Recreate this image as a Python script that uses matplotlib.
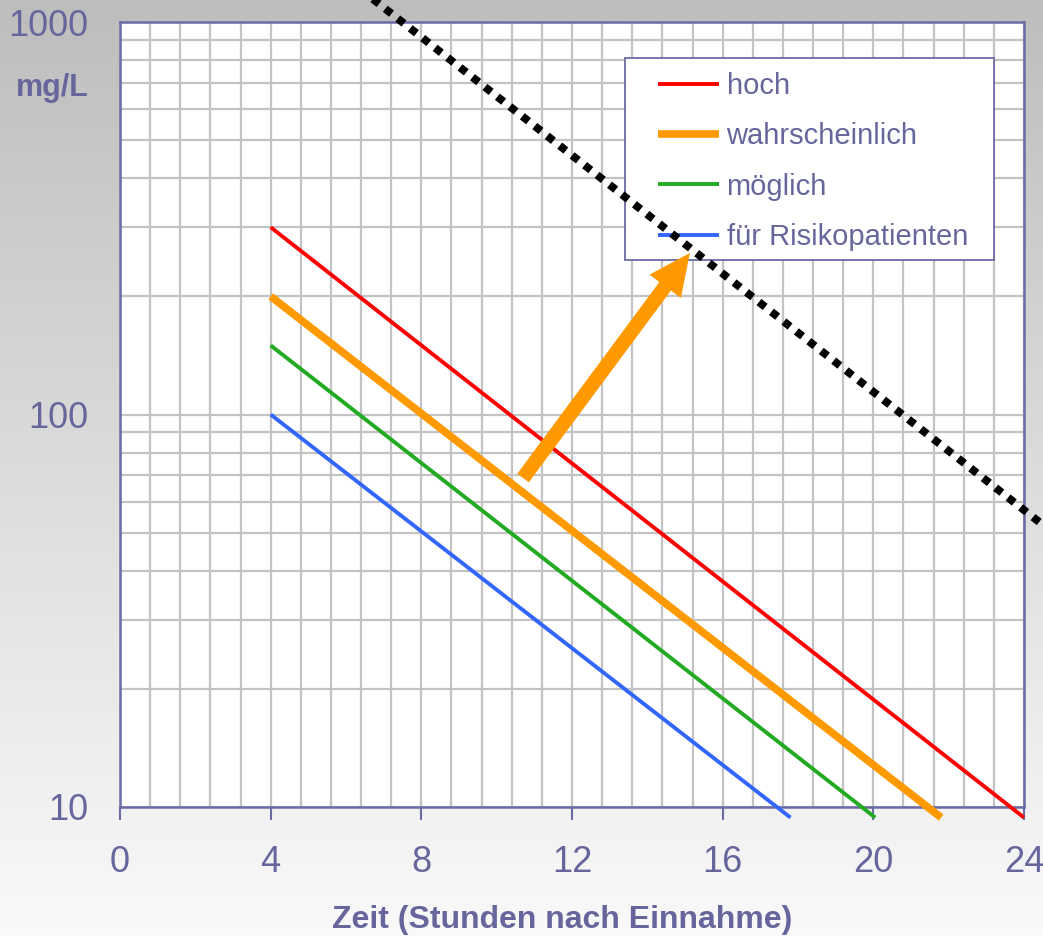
import numpy as np
import matplotlib
matplotlib.use('Agg')
import matplotlib.pyplot as plt
from matplotlib.patches import Rectangle
from matplotlib.ticker import NullFormatter

plt.rcParams['font.family'] = ['Liberation Sans', 'DejaVu Sans']

# Nomogramm-Linien: Start bei 4 h, Ende knapp unter 10 mg/L
labels = ['hoch', 'wahrscheinlich', 'möglich', 'für Risikopatienten']
colors = ['#ff0000', '#ff9900', '#22aa22', '#3366ff']
widths = [2.8, 5.5, 2.8, 2.8]
t_start = [4, 4, 4, 4]
c_start = [300, 200, 150, 100]
t_end = [24.0, 21.8, 20.05, 17.8]
c_end = [9.4, 9.4, 9.4, 9.4]

# gepunktete Linie und Pfeil
dot_t = [6.0, 25.0]
dot_c = [1295, 48]
arrow_tail = (10.7, 68.9)
arrow_tip = (15.13, 258)

xticks = [0, 4, 8, 12, 16, 20, 24]
yticks = [10, 100, 1000]

txt = '#66669c'
spine_col = '#6b6ba6'
W, H = 1043, 936

fig = plt.figure(figsize=(W / 100, H / 100), dpi=100)

# grauer Verlauf im Hintergrund
bg = fig.add_axes([0, 0, 1, 1], zorder=-10)
grad = np.linspace(0.74, 0.975, 256)[:, None]
bg.imshow(grad, cmap='gray', vmin=0, vmax=1, aspect='auto', extent=[0, 1, 0, 1])
bg.axis('off')

ax = fig.add_axes([120 / W, 1 - 807 / H, 904 / W, 785 / H])
ax.set_facecolor('white')
ax.set_yscale('log')
ax.set_xlim(0, 24)
ax.set_ylim(10, 1000)
ax.set_axisbelow(True)

ax.set_xticks(xticks)
ax.set_xticklabels([str(t) for t in xticks])
ax.set_xticks(np.arange(0, 24.01, 0.8), minor=True)
ax.set_yticks(yticks)
ax.set_yticklabels([str(t) for t in yticks])
ax.yaxis.set_minor_formatter(NullFormatter())
ax.grid(which='both', color='#c3c3c3', lw=1.6)

ax.tick_params(axis='x', which='major', length=9.5, width=1.5, color=spine_col,
               direction='out', labelsize=26, labelcolor=txt, pad=18)
ax.tick_params(axis='y', which='major', length=0, labelsize=26, labelcolor=txt, pad=23)
ax.tick_params(which='minor', length=0)
for s in ax.spines.values():
    s.set_color(spine_col)
    s.set_linewidth(1.8)

handles = []
for lab, col, lw, t0, c0, t1, c1 in zip(labels, colors, widths, t_start, c_start, t_end, c_end):
    ln, = ax.plot([t0, t1], [c0, c1], color=col, lw=lw, label=lab,
                  clip_on=False, solid_capstyle='butt', zorder=3)
    handles.append(ln)

# Legendenrahmen
ax.add_patch(Rectangle((0.5586, 0.697), 0.4082, 0.257, transform=ax.transAxes,
                       facecolor='white', edgecolor=spine_col, lw=1.3, zorder=4))
leg = ax.legend(handles=handles, loc='upper left', bbox_to_anchor=(0.5951, 0.936),
                frameon=False, fontsize=21, labelcolor=txt, borderpad=0,
                borderaxespad=0, handlelength=2.1, handletextpad=0.25,
                labelspacing=0.76)
leg.set_zorder(5)

ax.plot(dot_t, dot_c, color='black', lw=5.7, linestyle=(0, (1, 1)),
        dash_capstyle='butt', clip_on=False, zorder=6)

ax.annotate('', xy=arrow_tip, xytext=arrow_tail, annotation_clip=False,
            arrowprops=dict(arrowstyle='simple,head_length=2.6,head_width=2.45,tail_width=0.9',
                            mutation_scale=11.5, facecolor='#ff9900', edgecolor='none',
                            shrinkA=0, shrinkB=0), zorder=7)

fig.text(52 / W, 1 - 88 / H, 'mg/L', ha='center', va='center', fontsize=22,
         weight='bold', color=txt)
fig.text(562 / W, 1 - 920 / H, 'Zeit (Stunden nach Einnahme)', ha='center',
         va='center', fontsize=23, weight='bold', color=txt)

fig.savefig('out.png', dpi=100)
